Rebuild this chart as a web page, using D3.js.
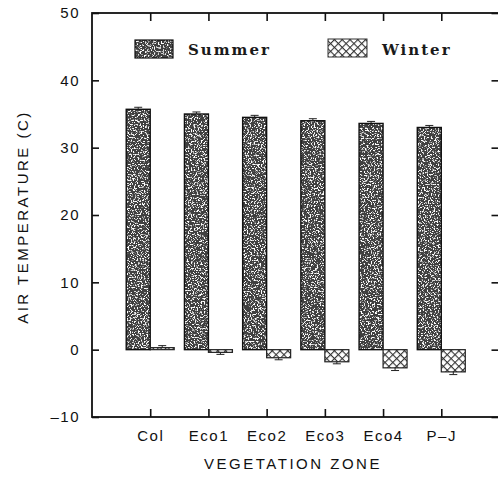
<!DOCTYPE html>
<html>
<head>
<meta charset="utf-8">
<script src="https://cdn.jsdelivr.net/npm/d3@7"></script>
<style>
    body { margin: 0; background: #fff; }
    svg { display: block; }
    .axis text { font-family: "Liberation Sans", Arial, sans-serif; font-size: 15px; fill: #111; letter-spacing: 1.5px; }
    .axis line { stroke: #111; stroke-width: 1.6; }
    .axis path { display: none; }
    .axis-title { font-family: "Liberation Sans", Arial, sans-serif; font-size: 15px; fill: #111; letter-spacing: 2.5px; }
    .legend-label { font-family: "DejaVu Serif", "Liberation Serif", serif; font-weight: bold; font-size: 15px; fill: #1a1a1a; letter-spacing: 2px; }
</style>
</head>
<body>
<div id="chart"></div>
<script>
// Data
const zones = ["Col", "Eco1", "Eco2", "Eco3", "Eco4", "P\u2013J"];
const summerTemp = [35.7, 35.0, 34.5, 34.0, 33.6, 33.0];
const summerErr = [0.3, 0.3, 0.3, 0.3, 0.3, 0.3];
const winterTemp = [0.3, -0.4, -1.2, -1.8, -2.7, -3.3];
const winterErr = [0.3, 0.3, 0.3, 0.3, 0.4, 0.4];
const yTicks = [-10, 0, 10, 20, 30, 40, 50];

document.addEventListener('DOMContentLoaded', () => {
    createChart();
});

function createChart() {
    const width = 498;
    const height = 481;
    const plot = { left: 92, right: 499.5, top: 13, bottom: 417 };
    const barWidth = 24;

    const svg = d3.select("#chart")
        .append("svg")
        .attr("width", width)
        .attr("height", height);

    const defs = svg.append("defs");

    // Dark stipple texture for the summer bars
    const stipple = defs.append("filter")
        .attr("id", "stipple")
        .attr("x", 0).attr("y", 0).attr("width", 1).attr("height", 1);
    stipple.append("feFlood").attr("flood-color", "#fff").attr("result", "white");
    stipple.append("feTurbulence")
        .attr("type", "fractalNoise")
        .attr("baseFrequency", 0.7)
        .attr("numOctaves", 2)
        .attr("seed", 7)
        .attr("result", "noise");
    stipple.append("feColorMatrix")
        .attr("in", "noise")
        .attr("type", "matrix")
        .attr("values", "0 0 0 0 0.05  0 0 0 0 0.05  0 0 0 0 0.05  -8 0 0 0 5.3")
        .attr("result", "dots");
    stipple.append("feComposite").attr("in", "dots").attr("in2", "white").attr("operator", "over").attr("result", "tex");
    stipple.append("feComposite").attr("in", "tex").attr("in2", "SourceAlpha").attr("operator", "in");

    // Cross hatch for the winter bars
    const hatch = defs.append("pattern")
        .attr("id", "hatch")
        .attr("patternUnits", "userSpaceOnUse")
        .attr("width", 5.5)
        .attr("height", 5.5)
        .attr("patternTransform", "rotate(45)");
    hatch.append("rect").attr("width", 5.5).attr("height", 5.5).attr("fill", "#fff");
    hatch.append("line").attr("x1", 0).attr("x2", 5.5).attr("y1", 0.5).attr("y2", 0.5)
        .attr("stroke", "#333").attr("stroke-width", 1.2);
    hatch.append("line").attr("x1", 0.5).attr("x2", 0.5).attr("y1", 0).attr("y2", 5.5)
        .attr("stroke", "#333").attr("stroke-width", 1.2);

    // Scales
    const x = d3.scalePoint()
        .domain(zones)
        .range([plot.left, plot.right])
        .padding(1);

    const y = d3.scaleLinear()
        .domain([-10, 50])
        .range([plot.bottom, plot.top]);

    // Axes, ticks pointing inward
    svg.append("g")
        .attr("class", "axis")
        .attr("transform", `translate(${plot.left},0)`)
        .call(d3.axisLeft(y).tickValues(yTicks).tickSizeInner(-7).tickSizeOuter(0).tickPadding(12)
            .tickFormat(d => d < 0 ? "\u2013" + Math.abs(d) : d));

    svg.append("g")
        .attr("class", "axis")
        .attr("transform", `translate(${plot.right - 1},0)`)
        .call(d3.axisRight(y).tickValues(yTicks).tickSizeInner(-7).tickSizeOuter(0).tickFormat(""));

    svg.append("g")
        .attr("class", "axis")
        .attr("transform", `translate(0,${plot.top})`)
        .call(d3.axisTop(x).tickSizeInner(-8).tickSizeOuter(0).tickFormat(""));

    svg.append("g")
        .attr("class", "axis")
        .attr("transform", `translate(0,${plot.bottom})`)
        .call(d3.axisBottom(x).tickSizeInner(-8).tickSizeOuter(0).tickPadding(13));

    // Frame
    svg.append("rect")
        .attr("x", plot.left)
        .attr("y", plot.top)
        .attr("width", plot.right - plot.left)
        .attr("height", plot.bottom - plot.top)
        .attr("fill", "none")
        .attr("stroke", "#111")
        .attr("stroke-width", 1.8);

    // Summer bars
    const summer = zones.map((z, i) => ({ zone: z, value: summerTemp[i], err: summerErr[i] }));
    const winter = zones.map((z, i) => ({ zone: z, value: winterTemp[i], err: winterErr[i] }));

    svg.selectAll(".summer-fill")
        .data(summer)
        .enter()
        .append("rect")
        .attr("x", d => x(d.zone) - barWidth)
        .attr("y", d => y(d.value))
        .attr("width", barWidth)
        .attr("height", d => y(0) - y(d.value))
        .attr("fill", "#000")
        .attr("filter", "url(#stipple)");

    svg.selectAll(".summer-edge")
        .data(summer)
        .enter()
        .append("rect")
        .attr("x", d => x(d.zone) - barWidth)
        .attr("y", d => y(d.value))
        .attr("width", barWidth)
        .attr("height", d => y(0) - y(d.value))
        .attr("fill", "none")
        .attr("stroke", "#111")
        .attr("stroke-width", 1.4);

    // Winter bars
    svg.selectAll(".winter")
        .data(winter)
        .enter()
        .append("rect")
        .attr("x", d => x(d.zone))
        .attr("y", d => y(Math.max(0, d.value)))
        .attr("width", barWidth)
        .attr("height", d => Math.abs(y(d.value) - y(0)))
        .attr("fill", "url(#hatch)")
        .attr("stroke", "#222")
        .attr("stroke-width", 1.2);

    // Error bars (outer side only)
    const errs = summer.map(d => ({ ...d, cx: x(d.zone) - barWidth / 2 }))
        .concat(winter.map(d => ({ ...d, cx: x(d.zone) + barWidth / 2 })));
    const tip = d => d.value >= 0 ? d.value + d.err : d.value - d.err;

    svg.selectAll(".err-stem")
        .data(errs)
        .enter()
        .append("line")
        .attr("x1", d => d.cx).attr("x2", d => d.cx)
        .attr("y1", d => y(d.value)).attr("y2", d => y(tip(d)))
        .attr("stroke", "#222").attr("stroke-width", 1);

    svg.selectAll(".err-cap")
        .data(errs)
        .enter()
        .append("line")
        .attr("x1", d => d.cx - 4).attr("x2", d => d.cx + 4)
        .attr("y1", d => y(tip(d))).attr("y2", d => y(tip(d)))
        .attr("stroke", "#222").attr("stroke-width", 1);

    // Legend
    const legend = svg.append("g").attr("class", "legend");

    legend.append("rect")
        .attr("x", 135).attr("y", 40).attr("width", 38).attr("height", 18)
        .attr("fill", "#000").attr("filter", "url(#stipple)");
    legend.append("rect")
        .attr("x", 135).attr("y", 40).attr("width", 38).attr("height", 18)
        .attr("fill", "none").attr("stroke", "#111").attr("stroke-width", 1.2);
    legend.append("text")
        .attr("class", "legend-label")
        .attr("x", 188).attr("y", 55)
        .text("Summer");

    legend.append("rect")
        .attr("x", 328).attr("y", 39).attr("width", 39).attr("height", 18)
        .attr("fill", "url(#hatch)").attr("stroke", "#333").attr("stroke-width", 1);
    legend.append("text")
        .attr("class", "legend-label")
        .attr("x", 382).attr("y", 55)
        .text("Winter");

    // Axis titles
    svg.append("text")
        .attr("class", "axis-title")
        .attr("x", 293)
        .attr("y", 469)
        .attr("text-anchor", "middle")
        .text("VEGETATION ZONE");

    svg.append("text")
        .attr("class", "axis-title")
        .attr("transform", "translate(28,217) rotate(-90)")
        .attr("text-anchor", "middle")
        .text("AIR TEMPERATURE (C)");
}
</script>
</body>
</html>
